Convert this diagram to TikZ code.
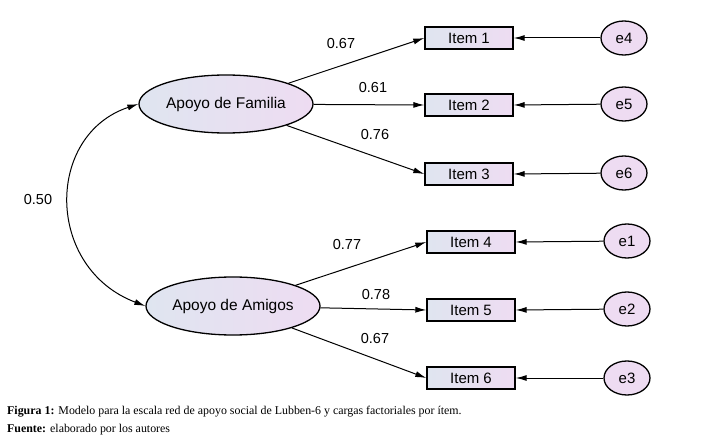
\documentclass[tikz,border=0pt]{standalone}
\usepackage{fontspec}
\setmainfont{Liberation Sans}
\newfontfamily\capfont{Liberation Serif}
\usetikzlibrary{shapes.geometric,arrows.meta}
\definecolor{lblue}{HTML}{DFE5F0}
\definecolor{lpink}{HTML}{EEDCF2}
\begin{document}
\begin{tikzpicture}[x=1pt,y=-1pt,
  latent/.style={ellipse,draw=black,line width=1.3pt,left color=lblue,right color=lpink,minimum width=174pt,minimum height=58pt,inner sep=0pt,font=\fontsize{15.5}{18}\selectfont},
  obs/.style={rectangle,draw=black,line width=1.4pt,left color=lblue,right color=lpink,minimum width=88pt,minimum height=22pt,inner sep=0pt,font=\fontsize{15}{18}\selectfont},
  err/.style={ellipse,draw=black,line width=1.3pt,fill=lpink,minimum width=46pt,minimum height=34pt,inner sep=0pt,font=\fontsize{15}{18}\selectfont},
  path/.style={line width=1pt,-{Latex[length=11pt,width=6pt]}},
  lab/.style={font=\fontsize{14.5}{17}\selectfont}]
\useasboundingbox (0,0) rectangle (724,441);
\fill[white] (0,0) rectangle (724,441);
\node[latent] (fam) at (226,104) {Apoyo de Familia};
\node[latent] (ami) at (233,306) {Apoyo de Amigos};
\node[obs] (i1) at (469,38) {Item 1};
\node[obs] (i2) at (469,105) {Item 2};
\node[obs] (i3) at (469,174) {Item 3};
\node[obs] (i4) at (471,242) {Item 4};
\node[obs] (i5) at (471,310) {Item 5};
\node[obs] (i6) at (471,378) {Item 6};
\node[err] (e4) at (624,38) {e4};
\node[err] (e5) at (624,104) {e5};
\node[err] (e6) at (624,173) {e6};
\node[err] (e1) at (627,241) {e1};
\node[err] (e2) at (627,309) {e2};
\node[err] (e3) at (627,378) {e3};
\draw[path] (fam) -- (i1.west);
\draw[path] (fam) -- (i2.west);
\draw[path] (fam) -- (i3.west);
\draw[path] (ami) -- (i4.west);
\draw[path] (ami) -- (i5.west);
\draw[path] (ami) -- (i6.west);
\draw[path] (e4) -- (i1.east);
\draw[path] (e5) -- (i2.east);
\draw[path] (e6) -- (i3.east);
\draw[path] (e1) -- (i4.east);
\draw[path] (e2) -- (i5.east);
\draw[path] (e3) -- (i6.east);
\draw[line width=1pt,{Latex[length=11pt,width=6pt]}-{Latex[length=11pt,width=6pt]}] (fam.west) .. controls (45,135) and (45,268) .. (ami.west);
\node[lab] (l1) at (341,44) {0.67};
\node[lab] (l2) at (373,88) {0.61};
\node[lab] (l3) at (375,135) {0.76};
\node[lab] (l4) at (347,245) {0.77};
\node[lab] (l5) at (376,295) {0.78};
\node[lab] (l6) at (375,339) {0.67};
\node[lab] (l0) at (38,200) {0.50};
\node[anchor=base west,inner sep=0pt,font=\capfont\fontsize{11.9}{14}\selectfont] (cap1) at (7,414) {\textbf{Figura 1:} Modelo para la escala red de apoyo social de Lubben-6 y cargas factoriales por ítem.};
\node[anchor=base west,inner sep=0pt,font=\capfont\fontsize{11.9}{14}\selectfont] (cap2) at (7,432) {\textbf{Fuente:} elaborado por los autores};
\end{tikzpicture}
\end{document}
